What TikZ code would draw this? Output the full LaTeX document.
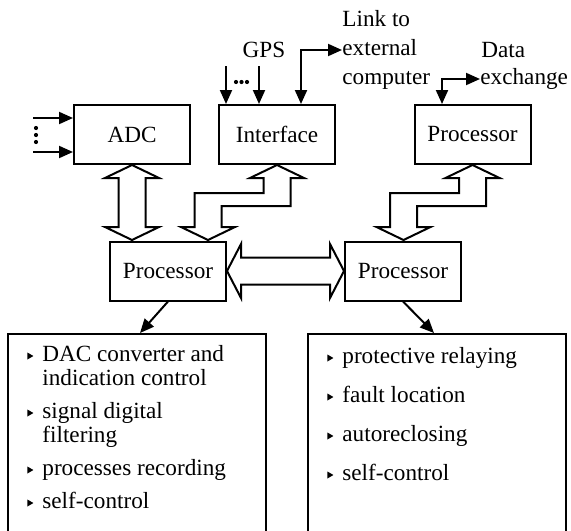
\documentclass[tikz,border=0pt]{standalone}
\usepackage{fontspec}
\setmainfont{Liberation Serif}
\usetikzlibrary{arrows.meta,calc}

% bullet and hanging indent for the task lists
\newcommand{\blt}{\makebox[7.5pt][l]{\tikz[baseline=0pt]\fill (0pt,1pt) -- (3pt,2.75pt) -- (0pt,4.5pt) -- cycle;}}
\newcommand{\hang}{\hspace*{7.5pt}}

\begin{document}
\begin{tikzpicture}[
        x=0.5pt, y=-0.5pt,
        font=\fontsize{11.6}{12}\selectfont,
        block/.style={rectangle, draw, line width=1pt, minimum width=58pt, minimum height=29.5pt, inner sep=0pt},
        listbox/.style={rectangle, draw, line width=1pt, minimum width=129pt, minimum height=106pt, inner sep=0pt, anchor=north west},
        items/.style={align=left, inner sep=0pt, anchor=north west},
        lbl/.style={inner sep=0pt, align=left, font=\fontsize{11.6}{14.3}\selectfont},
        arrow/.style={-{Triangle[length=7pt,width=6pt]}, line width=1pt},
        biarrow/.style={{Triangle[length=7pt,width=6pt]}-{Triangle[length=7pt,width=6pt]}, line width=1pt},
        bus/.style={draw, fill=white, line width=1pt, line join=miter}
    ]
    \useasboundingbox (0,0) rectangle (571,530);

    \node[block] (adc) at (132,134.5) {ADC};
    \node[block] (iface) at (277,134.5) {Interface};
    \node[block] (procT) at (472.5,134.5) {Processor};
    \node[block] (procL) at (168,271) {Processor};
    \node[block] (procR) at (403,271) {Processor};

    \node[listbox] (tasksL) at (7,333) {};
    \node[listbox] (tasksR) at (307,333) {};
    \node[items] (itemsL) at ($(tasksL.north west)+(20,12)$) {%
        \blt DAC converter and\\ \hang indication control\\[4.5pt]
        \blt signal digital\\ \hang filtering\\[4.5pt]
        \blt processes recording\\[4.5pt]
        \blt self-control};
    \node[items] (itemsR) at ($(tasksR.north west)+(20,14)$) {%
        \blt protective relaying\\[7.5pt]
        \blt fault location\\[7.5pt]
        \blt autoreclosing\\[7.5pt]
        \blt self-control};

    % labels above the top row
    \node[lbl] (gps) at (264,50) {GPS};
    \node[lbl, anchor=west] (link) at (342,50) {Link to\\external\\computer};
    \node[lbl, anchor=west] (data) at (481,50) {Data};
    \node[lbl, anchor=west] (exch) at (480,79) {exchange};

    \coordinate (inA) at (33,118);
    \coordinate (inB) at (33,152);
    \coordinate (gpsA) at (226,66);
    \coordinate (gpsB) at (259,66);

    % inputs
    \draw[arrow] (inA) -- (inA -| adc.west);
    \draw[arrow] (inB) -- (inB -| adc.west);
    \draw[arrow] (gpsA) -- (gpsA |- iface.north);
    \draw[arrow] (gpsB) -- (gpsB |- iface.north);
    \foreach \d in {128,135,142} \fill (36,\d) circle (2.1);
    \foreach \d in {236,241.5,247} \fill (\d,82) circle (2.1);

    % external links
    \draw[biarrow] (link.west) -| ($(iface.north)+(24,0)$);
    \draw[biarrow] (exch.west) -| ($(procT.north)+(-30.5,0)$);

    % wide buses
    \draw[bus] (adc.south) --++(27,13) --++(-13.5,0) --++(0,49) --++(13.5,0)
        --++(-27,13) --++(-27,-13) --++(13.5,0) --++(0,-49) --++(-13.5,0) -- cycle;
    \foreach \top in {iface,procT}
        \draw[bus] (\top.south) --++(27,13) --++(-13.5,0) --++(0,28) --++(-69,0)
            --++(0,21) --++(13.5,0) --++(-27,13) --++(-27,-13) --++(13.5,0)
            --++(0,-34) --++(69,0) --++(0,-15) --++(-13.5,0) -- cycle;
    \draw[bus] (procL.east) --++(14,-27) --++(0,13.5) --++(89,0) --++(0,-13.5)
        --++(14,27) --++(-14,27) --++(0,-13.5) --++(-89,0) --++(0,13.5) -- cycle;

    % processors to their task lists
    \draw[arrow] (procL.south) -- ($(tasksL.north)+(3,0)$);
    \draw[arrow] (procR.south) -- ($(tasksR.north)+(-3,0)$);
\end{tikzpicture}
\end{document}
